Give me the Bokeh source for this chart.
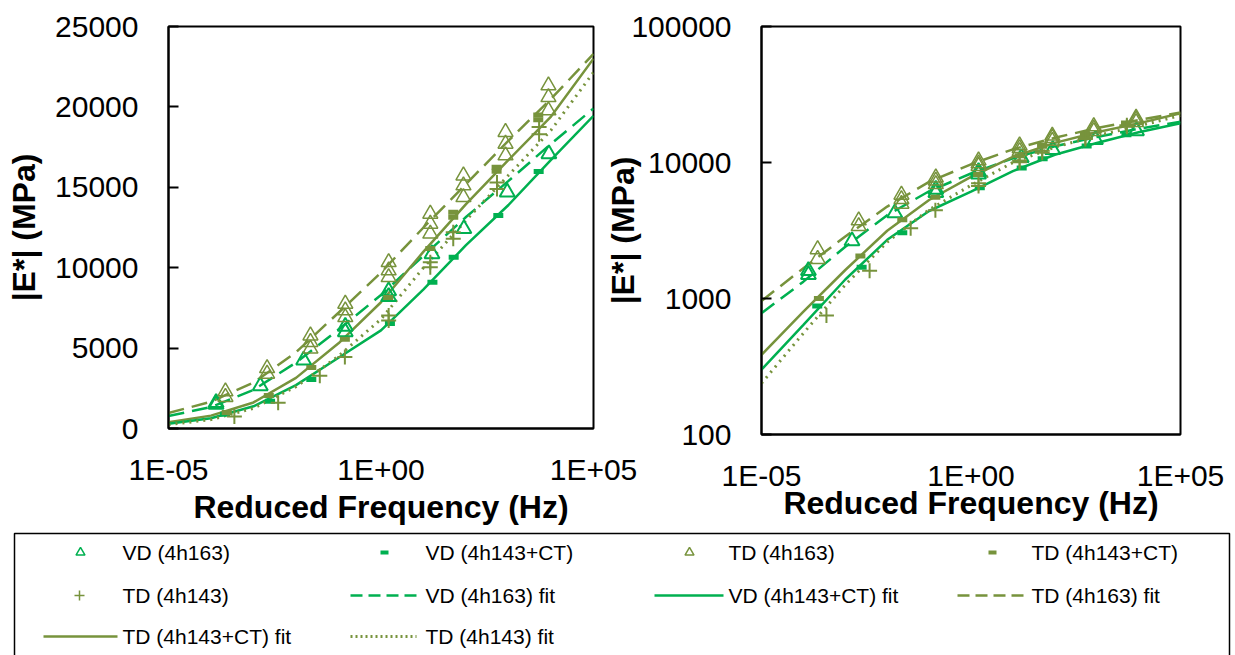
import numpy as np
from bokeh.plotting import figure
from bokeh.layouts import column, row
from bokeh.models import Range1d, FixedTicker, CustomJSTickFormatter
from bokeh.core.properties import value
from bokeh.embed import file_html
from bokeh.resources import INLINE

GREEN = "#00B050"
OLIVE = "#77933C"
FONT = "Liberation Sans"

# ---------------- data (log10 of reduced frequency, |E*| in MPa) ----------------
fit_logf = [-5, -4, -3, -2, -1, 0, 1, 2, 3, 4, 5]
fit_vd163 = [780, 1330, 2400, 4100, 6150, 8300, 10750, 13150, 15400, 17700, 19900]
fit_vd143ct = [300, 640, 1380, 2700, 4400, 6100, 8650, 11400, 13900, 16700, 19450]
fit_td163 = [960, 1670, 2855, 4740, 7200, 9700, 12500, 15200, 17900, 20500, 23300]
fit_td143ct = [385, 800, 1620, 3150, 5300, 7850, 11000, 13950, 16700, 19400, 23000]
fit_td143 = [238, 556, 1260, 2600, 4500, 6800, 10000, 12950, 15750, 18550, 22150]

vd163_logf = [-3.88, -3.88, -2.84, -1.82, -0.84, -0.84, 0.18, 0.18, 1.20, 1.95, 2.97, 3.95]
vd163_E = [1600, 1500, 2650, 4250, 6350, 6000, 8550, 8200, 10860, 12420, 14700, 17080]

vd143ct_logf = [-3.67, -2.61, -1.64, 0.21, 1.21, 1.71, 2.76, 3.71]
vd143ct_E = [880, 1700, 3050, 6530, 9100, 10650, 13250, 15980]

td163_logf = [-3.66, -3.66, -2.68, -2.68, -1.66, -1.66, -1.66, -0.84, -0.84, -0.84,
              0.18, 0.18, 0.18, 1.16, 1.16, 1.16, 1.94, 1.94, 1.94,
              2.93, 2.93, 2.93, 3.94, 3.94, 3.94]
td163_E = [2300, 1950, 3750, 3400, 5780, 5370, 4960, 7750, 7340, 6920,
           10340, 9830, 9410, 13350, 12730, 12110, 15730, 15110, 14380,
           18430, 17700, 16980, 21330, 20600, 19780]

td143ct_logf = [-3.63, -2.64, -1.64, -0.85, 0.17, 1.16, 1.70, 1.70, 2.72, 2.72, 3.70, 3.70]
td143ct_E = [1000, 2050, 3800, 5550, 8150, 11190, 13450, 13140, 16250, 16000, 19500, 19200]

td143_logf = [-3.45, -2.42, -1.44, -0.85, 0.18, 0.18, 1.16, 1.16, 1.70, 1.70, 2.73, 2.73, 3.72, 3.72]
td143_E = [750, 1600, 3280, 4450, 7030, 6720, 10340, 10030, 12200, 11800, 15300, 14900, 18750, 18300]

x_ticks = [1e-5, 1.0, 1e5]
y_ticks_lin = [0, 5000, 10000, 15000, 20000, 25000]
y_ticks_log = [100, 1000, 10000, 100000]

legend_labels = ["VD (4h163)", "VD (4h143+CT)", "TD (4h163)", "TD (4h143+CT)",
                 "TD (4h143)", "VD (4h163) fit", "VD (4h143+CT) fit", "TD (4h163) fit",
                 "TD (4h143+CT) fit", "TD (4h143) fit"]


def hz(logs):
    return [10.0 ** v for v in logs]


sci_fmt = CustomJSTickFormatter(code="""
const e = Math.round(Math.log10(tick));
const s = e < 0 ? '-' : '+';
const a = Math.abs(e);
return '1E' + s + (a < 10 ? '0' : '') + a;
""")
int_fmt = CustomJSTickFormatter(code="return Math.round(tick).toFixed(0);")


def make_plot(log_y, fw, fh, bl, br, bt, bb, ylabel_standoff, xlabel_standoff):
    kw = dict(x_axis_type="log", y_axis_type="log" if log_y else "linear",
              frame_width=fw, frame_height=fh,
              x_range=Range1d(1e-5, 1e5),
              y_range=Range1d(100, 100000) if log_y else Range1d(0, 25000),
              output_backend="svg", toolbar_location=None,
              min_border_left=bl, min_border_right=br, min_border_top=bt, min_border_bottom=bb)
    p = figure(**kw)
    p.xgrid.visible = False
    p.ygrid.visible = False
    p.outline_line_color = "black"
    p.outline_line_width = 2
    p.background_fill_color = "white"
    p.border_fill_color = "white"

    xa = p.xaxis[0]
    xa.ticker = FixedTicker(ticks=x_ticks)
    xa.formatter = sci_fmt
    xa.axis_label = "Reduced Frequency (Hz)"
    ya = p.yaxis[0]
    if log_y:
        ya.ticker = FixedTicker(ticks=y_ticks_log)
    else:
        ya.ticker = FixedTicker(ticks=y_ticks_lin)
    ya.formatter = int_fmt
    ya.axis_label = "|E*| (MPa)"
    for ax in (xa, ya):
        ax.axis_line_width = 2
        ax.axis_line_color = "black"
        ax.minor_tick_line_color = None
        ax.major_label_text_font = FONT
        ax.major_label_text_font_size = "30px"
        ax.major_label_text_color = "black"
        ax.axis_label_text_font = FONT
        ax.axis_label_text_font_size = "32px"
        ax.axis_label_text_font_style = "bold"
        ax.axis_label_text_color = "black"
    xa.major_tick_line_color = None
    xa.major_label_standoff = 18
    xa.axis_label_standoff = xlabel_standoff
    ya.major_tick_in = 10
    ya.major_tick_out = 0
    ya.major_tick_line_width = 2
    ya.major_tick_line_color = "black"
    ya.major_label_standoff = 30
    ya.axis_label_standoff = ylabel_standoff

    fx = hz(fit_logf)
    p.line(fx, fit_td163, line_color=OLIVE, line_width=2.5, line_dash="16 8")
    p.line(fx, fit_vd163, line_color=GREEN, line_width=2.5, line_dash="16 8")
    p.line(fx, fit_td143ct, line_color=OLIVE, line_width=2.5)
    p.line(fx, fit_vd143ct, line_color=GREEN, line_width=2.5)
    p.line(fx, fit_td143, line_color=OLIVE, line_width=3, line_dash="2 5")

    p.scatter(hz(vd163_logf), vd163_E, marker="triangle", size=15, fill_color=None,
              line_color=GREEN, line_width=2)
    p.scatter(hz(vd143ct_logf), vd143ct_E, marker="dash", size=10, line_color=GREEN, line_width=5)
    p.scatter(hz(td163_logf), td163_E, marker="triangle", size=15, fill_color=None,
              line_color=OLIVE, line_width=1.5)
    p.scatter(hz(td143ct_logf), td143ct_E, marker="dash", size=10, line_color=OLIVE, line_width=5)
    p.scatter(hz(td143_logf), td143_E, marker="cross", size=15, line_color=OLIVE, line_width=2)
    return p


# left panel canvas reaches x=642 so its "1E+05" label is not squeezed;
# right panel is pulled left by 40px and has a transparent border so both fit.
p1 = make_plot(False, 425, 402, 168, 49, 26, 102, 10, 0)
p2 = make_plot(True, 419, 408, 159, 55, 26, 96, -13, -10)
p2.border_fill_alpha = 0
p2.margin = (0, 0, 0, -40)

# ---------------- legend (drawn in its own panel) ----------------
leg = figure(width=1235, height=125, x_range=Range1d(0, 1235), y_range=Range1d(655, 530),
             output_backend="svg", toolbar_location=None,
             x_axis_location=None, y_axis_location=None, min_border=0)
leg.xgrid.visible = False
leg.ygrid.visible = False
leg.outline_line_color = None
leg.background_fill_color = "white"
leg.border_fill_color = "white"
leg.quad(left=[14], right=[1229], top=[533], bottom=[670], fill_color=None,
         line_color="black", line_width=1.5)

r1, r2, r3 = 552, 595, 636
leg.scatter([80], [r1], marker="triangle", size=9, fill_color=None, line_color=GREEN, line_width=1.5)
leg.scatter([384], [r1], marker="dash", size=8, line_color=GREEN, line_width=4)
leg.scatter([689], [r1], marker="triangle", size=9, fill_color=None, line_color=OLIVE, line_width=1.5)
leg.scatter([992], [r1], marker="dash", size=8, line_color=OLIVE, line_width=4)
leg.scatter([79], [r2], marker="cross", size=10, line_color=OLIVE, line_width=1.5)
leg.line([350, 418], [r2, r2], line_color=GREEN, line_width=2.5, line_dash="12 6")
leg.line([654, 723], [r2, r2], line_color=GREEN, line_width=2.5)
leg.line([957, 1027], [r2, r2], line_color=OLIVE, line_width=2.5, line_dash="12 6")
leg.line([43, 117], [r3, r3], line_color=OLIVE, line_width=2.5)
leg.line([350, 416], [r3, r3], line_color=OLIVE, line_width=3, line_dash="2 3")

tx = [122, 425, 728, 1031, 122, 425, 728, 1031, 122, 425]
ty = [r1, r1, r1, r1, r2, r2, r2, r2, r3, r3]
leg.text(tx, ty, text=legend_labels, text_font=value(FONT), text_font_size=value("21px"),
         text_baseline="middle", text_align="left", text_color="black")

layout = column(row(p1, p2, spacing=0), leg, spacing=0)
open("out.html", "w").write(file_html(layout, INLINE))
